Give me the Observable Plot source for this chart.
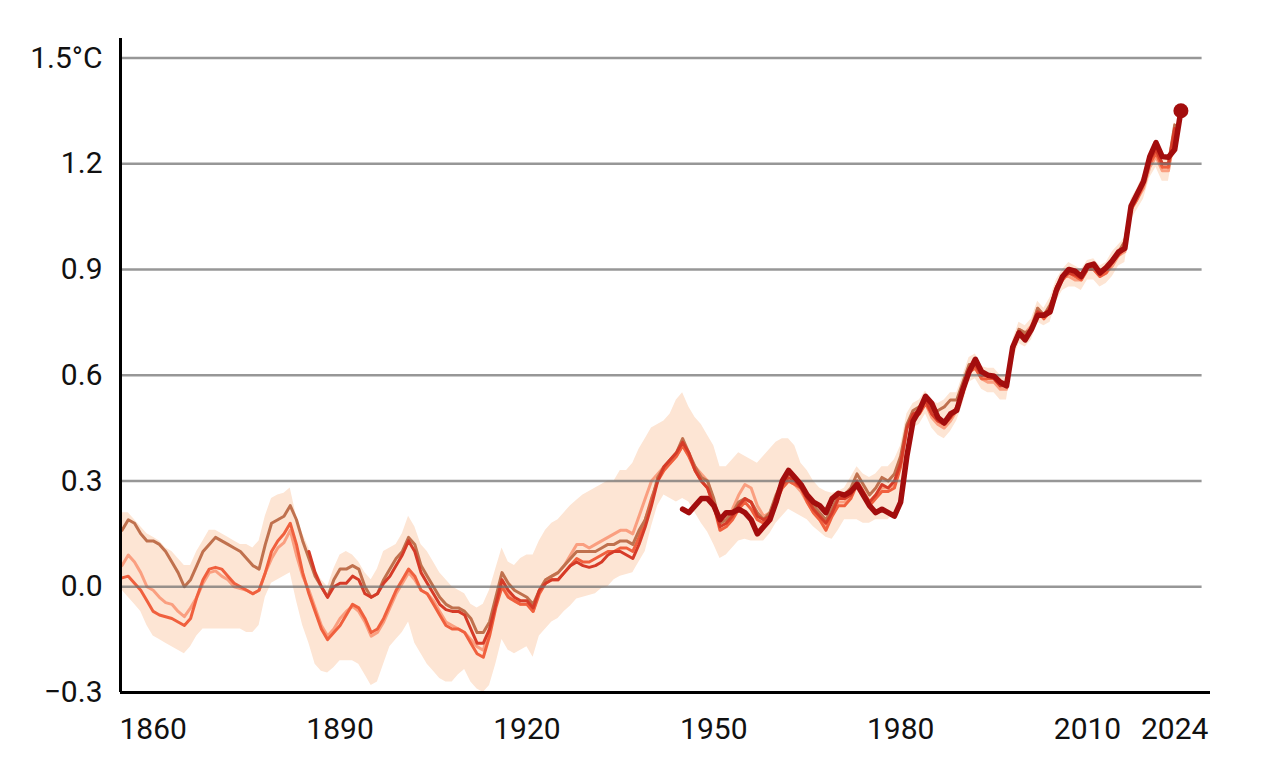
<!DOCTYPE html>
<html>
<head>
<meta charset="utf-8">
<script src="https://cdn.jsdelivr.net/npm/d3@7"></script>
<script src="https://cdn.jsdelivr.net/npm/@observablehq/plot@0.6"></script>
<style>
  html, body { margin: 0; padding: 0; background: #fff; }
  #chart { width: 1280px; height: 782px; }
</style>
</head>
<body>
<div id="chart"></div>
<script>
// ---------- DATA (smoothed global temperature anomaly, °C) ----------
const xTicks = [1860, 1890, 1920, 1950, 1980, 2010, 2024];
const yTicks = [-0.3, 0, 0.3, 0.6, 0.9, 1.2, 1.5];
const yTickLabels = ["−0.3", "0.0", "0.3", "0.6", "0.9", "1.2", "1.5°C"];
const gridValues = [0, 0.3, 0.6, 0.9, 1.2, 1.5];

// brown series, 1855–2024
const brownStart = 1855;
const brown = [
  0.16, 0.19, 0.18, 0.15, 0.13, 0.13, 0.12, 0.10, 0.07, 0.04,
  0.00, 0.02, 0.06, 0.10, 0.12, 0.14, 0.13, 0.12, 0.11, 0.10,
  0.08, 0.06, 0.05, 0.12, 0.18, 0.19, 0.20, 0.23, 0.19, 0.13,
  0.08, 0.03, 0.00, -0.03, 0.02, 0.05, 0.05, 0.06, 0.05, 0.00,
  -0.03, -0.02, 0.02, 0.05, 0.08, 0.10, 0.14, 0.12, 0.06, 0.03,
  0.00, -0.03, -0.05, -0.06, -0.06, -0.07, -0.09, -0.13, -0.13, -0.10,
  -0.03, 0.04, 0.01, -0.01, -0.02, -0.03, -0.05, -0.01, 0.02, 0.03,
  0.04, 0.06, 0.08, 0.10, 0.10, 0.10, 0.10, 0.11, 0.12, 0.12,
  0.13, 0.13, 0.12, 0.16, 0.19, 0.24, 0.31, 0.34, 0.36, 0.38,
  0.42, 0.38, 0.34, 0.31, 0.30, 0.25, 0.18, 0.19, 0.21, 0.24,
  0.25, 0.24, 0.21, 0.19, 0.21, 0.26, 0.30, 0.32, 0.31, 0.29,
  0.26, 0.23, 0.21, 0.19, 0.22, 0.26, 0.26, 0.28, 0.32, 0.29,
  0.26, 0.28, 0.31, 0.30, 0.32, 0.37, 0.46, 0.50, 0.51, 0.53,
  0.50, 0.50, 0.51, 0.53, 0.53, 0.58, 0.63, 0.63, 0.60, 0.60,
  0.60, 0.58, 0.58, 0.67, 0.73, 0.72, 0.73, 0.79, 0.77, 0.80,
  0.84, 0.88, 0.90, 0.89, 0.88, 0.90, 0.91, 0.89, 0.90, 0.93,
  0.95, 0.98, 1.08, 1.12, 1.15, 1.22, 1.24, 1.20, 1.20, 1.31
];

// salmon series, 1855–2024
const salmonStart = 1855;
const salmon = [
  0.06, 0.09, 0.07, 0.04, 0.00, -0.01, -0.03, -0.045, -0.05, -0.07,
  -0.085, -0.06, -0.03, 0.01, 0.04, 0.045, 0.03, 0.02, 0.00, -0.005,
  -0.01, -0.02, -0.01, 0.04, 0.08, 0.11, 0.125, 0.16, 0.09, 0.03,
  -0.01, -0.06, -0.11, -0.14, -0.12, -0.09, -0.07, -0.055, -0.07, -0.10,
  -0.14, -0.13, -0.10, -0.06, -0.02, 0.01, 0.04, 0.02, -0.01, -0.02,
  -0.04, -0.07, -0.10, -0.11, -0.12, -0.13, -0.15, -0.17, -0.18, -0.12,
  -0.05, 0.01, -0.02, -0.04, -0.05, -0.05, -0.07, -0.01, 0.02, 0.03,
  0.04, 0.06, 0.09, 0.12, 0.12, 0.11, 0.12, 0.13, 0.14, 0.15,
  0.16, 0.16, 0.15, 0.20, 0.25, 0.30, 0.32, 0.34, 0.35, 0.37,
  0.40, 0.37, 0.34, 0.32, 0.30, 0.24, 0.18, 0.19, 0.22, 0.26,
  0.29, 0.28, 0.23, 0.20, 0.21, 0.25, 0.28, 0.30, 0.29, 0.27,
  0.24, 0.21, 0.19, 0.17, 0.21, 0.24, 0.24, 0.26, 0.30, 0.27,
  0.24, 0.26, 0.28, 0.28, 0.29, 0.35, 0.45, 0.48, 0.49, 0.52,
  0.48, 0.46, 0.45, 0.47, 0.50, 0.55, 0.61, 0.62, 0.59, 0.58,
  0.58, 0.56, 0.56, 0.67, 0.73, 0.72, 0.74, 0.79, 0.77, 0.79,
  0.85, 0.88, 0.88, 0.87, 0.87, 0.90, 0.90, 0.88, 0.89, 0.91,
  0.94, 0.95, 1.07, 1.10, 1.13, 1.19, 1.22, 1.18, 1.18, 1.28
];

// orange series, 1855–2024
const orangeStart = 1855;
const orange = [
  0.025, 0.03, 0.01, -0.01, -0.04, -0.07, -0.08, -0.085, -0.09, -0.10,
  -0.11, -0.09, -0.03, 0.02, 0.05, 0.055, 0.05, 0.03, 0.01, 0.00,
  -0.01, -0.02, -0.01, 0.04, 0.10, 0.13, 0.15, 0.18, 0.12, 0.04,
  -0.02, -0.07, -0.12, -0.15, -0.13, -0.11, -0.08, -0.05, -0.06, -0.09,
  -0.13, -0.12, -0.09, -0.05, -0.01, 0.02, 0.05, 0.03, -0.01, -0.02,
  -0.05, -0.08, -0.11, -0.12, -0.12, -0.13, -0.16, -0.19, -0.20, -0.14,
  -0.06, 0.00, -0.03, -0.04, -0.05, -0.05, -0.07, -0.02, 0.01, 0.02,
  0.02, 0.04, 0.06, 0.08, 0.07, 0.07, 0.08, 0.09, 0.10, 0.10,
  0.11, 0.11, 0.10, 0.14, 0.19, 0.25, 0.30, 0.33, 0.35, 0.37,
  0.40, 0.37, 0.33, 0.30, 0.28, 0.23, 0.16, 0.17, 0.19, 0.22,
  0.24, 0.22, 0.19, 0.18, 0.20, 0.24, 0.28, 0.30, 0.29, 0.28,
  0.24, 0.21, 0.19, 0.16, 0.20, 0.23, 0.23, 0.25, 0.29, 0.26,
  0.23, 0.25, 0.27, 0.27, 0.28, 0.34, 0.45, 0.48, 0.49, 0.52,
  0.49, 0.47, 0.46, 0.48, 0.50, 0.55, 0.61, 0.62, 0.59, 0.59,
  0.59, 0.57, 0.57, 0.67, 0.72, 0.71, 0.73, 0.78, 0.76, 0.78,
  0.84, 0.87, 0.89, 0.88, 0.87, 0.90, 0.90, 0.88, 0.89, 0.92,
  0.94, 0.96, 1.07, 1.10, 1.14, 1.20, 1.23, 1.19, 1.19, 1.29
];

// dark red series, 1885–2024
const redStart = 1885;
const red = [
  0.10, 0.04, 0.00, -0.03, 0.00, 0.01, 0.01, 0.03, 0.02, -0.02,
  -0.03, -0.02, 0.01, 0.03, 0.06, 0.09, 0.13, 0.10, 0.04, 0.01,
  -0.02, -0.05, -0.065, -0.07, -0.07, -0.08, -0.12, -0.16, -0.16, -0.12,
  -0.05, 0.02, -0.01, -0.03, -0.04, -0.04, -0.06, -0.01, 0.01, 0.02,
  0.02, 0.04, 0.06, 0.07, 0.06, 0.055, 0.06, 0.07, 0.09, 0.10,
  0.10, 0.09, 0.08, 0.12, 0.17, 0.23, 0.30, 0.34, 0.36, 0.38,
  0.41, 0.38, 0.33, 0.30, 0.28, 0.23, 0.17, 0.18, 0.20, 0.23,
  0.25, 0.24, 0.20, 0.19, 0.20, 0.25, 0.29, 0.31, 0.30, 0.28,
  0.25, 0.22, 0.20, 0.18, 0.21, 0.25, 0.25, 0.26, 0.30, 0.27,
  0.24, 0.26, 0.29, 0.28, 0.30, 0.35, 0.45, 0.49, 0.50, 0.53,
  0.49, 0.47, 0.46, 0.48, 0.51, 0.56, 0.62, 0.63, 0.60, 0.60,
  0.59, 0.57, 0.57, 0.68, 0.72, 0.71, 0.73, 0.78, 0.77, 0.79,
  0.85, 0.88, 0.89, 0.885, 0.875, 0.905, 0.91, 0.885, 0.90, 0.92,
  0.945, 0.96, 1.075, 1.11, 1.145, 1.21, 1.24, 1.20, 1.20, 1.30
];

// ERA5 (thick), 1945–2025
const era5Start = 1945;
const era5 = [
  0.22, 0.21, 0.23, 0.25, 0.25, 0.23, 0.19, 0.21, 0.21, 0.22,
  0.21, 0.19, 0.15, 0.17, 0.19, 0.24, 0.30, 0.33, 0.31, 0.29,
  0.26, 0.24, 0.23, 0.21, 0.25, 0.265, 0.26, 0.27, 0.29, 0.26,
  0.23, 0.21, 0.22, 0.21, 0.20, 0.24, 0.37, 0.47, 0.50, 0.54,
  0.52, 0.48, 0.465, 0.49, 0.50, 0.56, 0.61, 0.645, 0.61, 0.60,
  0.597, 0.58, 0.57, 0.68, 0.72, 0.70, 0.73, 0.77, 0.77, 0.78,
  0.84, 0.88, 0.90, 0.895, 0.88, 0.91, 0.915, 0.89, 0.905, 0.925,
  0.95, 0.96, 1.08, 1.115, 1.15, 1.22, 1.26, 1.22, 1.218, 1.24,
  1.35
];

// uncertainty band, 1855–2024
const bandStart = 1855;
const bandUpper = [
  0.21, 0.21, 0.19, 0.17, 0.15, 0.14, 0.13, 0.11, 0.10, 0.08,
  0.06, 0.06, 0.10, 0.13, 0.16, 0.16, 0.15, 0.14, 0.13, 0.12,
  0.12, 0.11, 0.13, 0.20, 0.25, 0.26, 0.265, 0.28, 0.20, 0.15,
  0.11, 0.05, 0.02, 0.00, 0.05, 0.09, 0.10, 0.09, 0.07, 0.04,
  0.02, 0.05, 0.10, 0.11, 0.12, 0.15, 0.20, 0.17, 0.12, 0.10,
  0.07, 0.04, 0.02, 0.00, -0.01, -0.02, -0.05, -0.06, -0.05, -0.01,
  0.05, 0.11, 0.07, 0.06, 0.08, 0.09, 0.09, 0.13, 0.16, 0.18,
  0.19, 0.21, 0.23, 0.245, 0.26, 0.27, 0.28, 0.29, 0.30, 0.30,
  0.33, 0.33, 0.35, 0.39, 0.42, 0.45, 0.46, 0.47, 0.49, 0.53,
  0.55, 0.51, 0.48, 0.46, 0.43, 0.40, 0.34, 0.34, 0.36, 0.38,
  0.37, 0.36, 0.35, 0.37, 0.39, 0.41, 0.42, 0.42, 0.40, 0.35,
  0.33, 0.30, 0.28, 0.27, 0.265, 0.27, 0.28, 0.31, 0.34, 0.32,
  0.31, 0.32, 0.34, 0.34, 0.36, 0.40, 0.49, 0.52, 0.53, 0.555,
  0.525, 0.52, 0.53, 0.55, 0.55, 0.60, 0.65, 0.66, 0.625, 0.62,
  0.62, 0.60, 0.60, 0.70, 0.75, 0.74, 0.76, 0.81, 0.79, 0.82,
  0.87, 0.90, 0.92, 0.91, 0.90, 0.925, 0.93, 0.91, 0.92, 0.95,
  0.97, 0.99, 1.10, 1.13, 1.17, 1.23, 1.26, 1.22, 1.22, 1.32
];
const bandLower = [
  -0.01, -0.03, -0.05, -0.07, -0.11, -0.14, -0.15, -0.16, -0.17, -0.18,
  -0.19, -0.17, -0.14, -0.12, -0.12, -0.12, -0.12, -0.12, -0.12, -0.12,
  -0.13, -0.13, -0.11, -0.03, 0.01, 0.02, 0.03, 0.04, -0.04, -0.11,
  -0.16, -0.22, -0.24, -0.245, -0.23, -0.21, -0.21, -0.21, -0.22, -0.25,
  -0.28, -0.27, -0.22, -0.17, -0.15, -0.13, -0.10, -0.16, -0.19, -0.22,
  -0.24, -0.26, -0.27, -0.27, -0.25, -0.235, -0.27, -0.29, -0.30, -0.28,
  -0.22, -0.15, -0.18, -0.19, -0.18, -0.17, -0.20, -0.14, -0.12, -0.10,
  -0.09, -0.07, -0.055, -0.035, -0.03, -0.025, -0.02, -0.005, 0.00, 0.02,
  0.03, 0.035, 0.04, 0.07, 0.10, 0.17, 0.23, 0.26, 0.25, 0.24,
  0.25, 0.24, 0.21, 0.18, 0.155, 0.12, 0.08, 0.09, 0.11, 0.13,
  0.135, 0.13, 0.13, 0.13, 0.15, 0.18, 0.20, 0.22, 0.21, 0.20,
  0.19, 0.17, 0.155, 0.14, 0.135, 0.16, 0.19, 0.19, 0.19, 0.18,
  0.18, 0.19, 0.19, 0.19, 0.21, 0.26, 0.41, 0.45, 0.46, 0.49,
  0.45, 0.43, 0.42, 0.44, 0.47, 0.52, 0.58, 0.59, 0.56, 0.55,
  0.55, 0.53, 0.53, 0.64, 0.69, 0.68, 0.70, 0.75, 0.74, 0.75,
  0.81, 0.84, 0.85, 0.85, 0.84, 0.87, 0.87, 0.85, 0.86, 0.88,
  0.91, 0.92, 1.04, 1.07, 1.10, 1.16, 1.19, 1.15, 1.15, 1.25
];

// ---------- BUILD ----------
const rows = (start, vals) => vals.map((v, i) => ({year: start + i, value: v}));
const band = bandUpper.map((hi, i) => ({year: bandStart + i, hi, lo: bandLower[i]}));
const era5Rows = rows(era5Start, era5);
const era5Last = era5Rows[era5Rows.length - 1];
const labelOf = new Map(yTicks.map((t, i) => [t, yTickLabels[i]]));

const X0 = 1854.75, X1 = 2029.75, YTOP = 1.555, GRID_END = 2028.4;
const C = {
  band: "#fde5d4",
  salmon: "#fa9f80",
  orange: "#f0603e",
  brown: "#c0714e",
  red: "#d63b28",
  era5: "#a30d0d"
};
const lineOpts = (color, w) => ({x: "year", y: "value", stroke: color, strokeWidth: w,
  strokeLinejoin: "round", strokeLinecap: "round"});

const chart = Plot.plot({
  width: 1280,
  height: 782,
  marginLeft: 120,
  marginRight: 70,
  marginTop: 38,
  marginBottom: 90,
  style: {fontFamily: "Roboto, 'Noto Sans', sans-serif", background: "#fff", color: "#111"},
  x: {domain: [X0, X1], axis: null, label: null},
  y: {domain: [-0.3, YTOP], axis: null, label: null},
  marks: [
    Plot.areaY(band, {x: "year", y1: "lo", y2: "hi", fill: C.band}),
    Plot.lineY(rows(salmonStart, salmon), lineOpts(C.salmon, 3)),
    Plot.lineY(rows(orangeStart, orange), lineOpts(C.orange, 3)),
    Plot.lineY(rows(brownStart, brown), lineOpts(C.brown, 3)),
    Plot.lineY(rows(redStart, red), lineOpts(C.red, 3)),
    Plot.ruleY(gridValues, {x1: X0, x2: GRID_END, stroke: "#6f6f6f", strokeOpacity: 0.72, strokeWidth: 2.5}),
    Plot.lineY(era5Rows, lineOpts(C.era5, 5.5)),
    Plot.dot([era5Last], {x: "year", y: "value", r: 7.5, fill: C.era5, stroke: "none"}),
    Plot.ruleX([X0], {y1: -0.3, y2: YTOP, stroke: "#000", strokeWidth: 3}),
    Plot.ruleY([-0.3], {x1: X0, x2: X1, stroke: "#000", strokeWidth: 3}),
    Plot.axisY(yTicks, {tickSize: 0, tickPadding: 18, fontSize: 30, fill: "#111", label: null,
      tickFormat: d => labelOf.get(d)}),
    Plot.axisX(xTicks, {tickSize: 0, tickPadding: 25, fontSize: 30, fill: "#111", label: null,
      tickFormat: d => String(d)})
  ]
});
document.getElementById("chart").appendChild(chart);
</script>
</body>
</html>
